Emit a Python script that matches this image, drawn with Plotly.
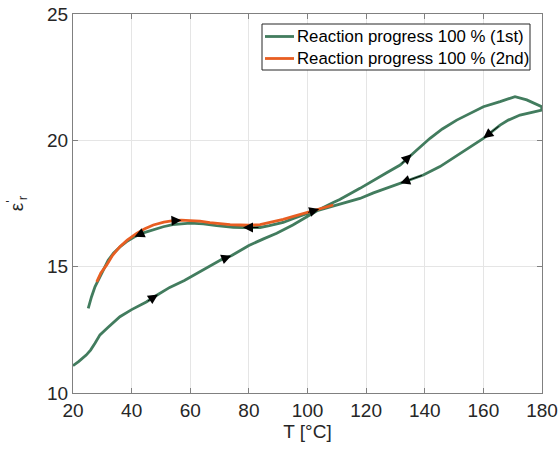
import plotly.graph_objects as go

# First measurement: heating from 20 °C up to 180 °C, then cooling back
t_first = [20, 22, 24.5, 26, 27.5, 29.2, 32, 36, 40, 45, 49, 53, 58, 62, 66, 70.5, 74,
           80, 85, 89.5, 95, 100, 104, 108.8, 111, 117.9, 122.5, 127, 131.6, 135.5,
           137.3, 141.8, 146, 150.9, 155, 160, 165.7, 170.8, 174.8, 178, 179.9,
           179.9, 176, 172.5, 168.5, 165.7, 160, 155, 150.9, 145.2, 139.5, 131.6, 127,
           122.5, 117.9, 111, 108.8, 105, 99.7, 95, 91.7, 87, 83.8, 78, 74.7, 69, 64.5,
           60, 57, 54, 50.8, 47, 44, 41, 38.3, 36, 33.8, 32, 30.3, 29, 27.5, 26.3, 25.2]
eps_first = [11.08, 11.25, 11.5, 11.7, 11.97, 12.3, 12.6, 13.02, 13.3, 13.6, 13.9, 14.18,
             14.45, 14.71, 14.98, 15.27, 15.43, 15.84, 16.1, 16.32, 16.65, 16.98, 17.26,
             17.54, 17.66, 18.1, 18.43, 18.72, 19.02, 19.45, 19.62, 20.08, 20.45, 20.8,
             21.05, 21.33, 21.53, 21.73, 21.6, 21.42, 21.33,
             21.2, 21.1, 21.0, 20.8, 20.6, 20.08, 19.7, 19.42, 18.96, 18.63, 18.3, 18.12,
             17.92, 17.7, 17.47, 17.4, 17.26, 17.1, 16.9, 16.75, 16.62, 16.55, 16.55,
             16.56, 16.62, 16.69, 16.72, 16.7, 16.66, 16.58, 16.46, 16.34, 16.18, 15.99,
             15.78, 15.53, 15.25, 14.87, 14.55, 14.2, 13.8, 13.35]

# Second measurement: heating only
t_second = [28.1, 29.5, 31.5, 33.5, 36, 38.5, 41.7, 44.5, 47.4, 51, 54.2, 57, 59.9, 63.3,
            66.7, 70, 73.6, 77, 80, 83.8, 87.5, 91.7, 95.5, 99.7, 104, 108.8]
eps_second = [14.4, 14.75, 15.07, 15.45, 15.79, 16.05, 16.32, 16.5, 16.65, 16.76, 16.82,
              16.84, 16.82, 16.8, 16.74, 16.7, 16.66, 16.65, 16.64, 16.66, 16.75, 16.87,
              17.0, 17.13, 17.28, 17.44]

# Indices of the points that carry a direction arrow
arrows_first = [10, 16, 29, 46, 51, 63, 73]
arrows_second = [11, 24]

series_names = ["Reaction progress 100 % (1st)", "Reaction progress 100 % (2nd)"]
x_ticks = [20, 40, 60, 80, 100, 120, 140, 160, 180]
y_ticks = [10, 15, 20, 25]

GREEN = "rgb(66,124,94)"
ORANGE = "rgb(232,94,34)"
COLORS = [GREEN, ORANGE]
FONT = "Liberation Sans, Arial, sans-serif"

W, H = 558, 449
M_L, M_R, M_T, M_B = 73, 16, 14, 56
PLOT_W, PLOT_H = W - M_L - M_R, H - M_T - M_B


def px_x(px):
    """Pixel column -> paper x."""
    return (px - M_L) / PLOT_W


def px_y(py):
    """Pixel row (from top) -> paper y."""
    return (H - M_B - py) / PLOT_H


fig = go.Figure()
fig.add_trace(go.Scatter(x=t_first, y=eps_first, mode="lines", name=series_names[0],
                         line=dict(color=GREEN, width=2.8)))
fig.add_trace(go.Scatter(x=t_second, y=eps_second, mode="lines", name=series_names[1],
                         line=dict(color=ORANGE, width=2.8)))

annotations = []
for xs, ys, idxs in [(t_first, eps_first, arrows_first), (t_second, eps_second, arrows_second)]:
    for i in idxs:
        annotations.append(dict(
            x=xs[i], y=ys[i], ax=xs[i - 1], ay=ys[i - 1],
            xref="x", yref="y", axref="x", ayref="y",
            text="", showarrow=True, arrowhead=2, arrowsize=2.0,
            arrowwidth=1, arrowcolor="black"))

# Legend box drawn with shapes so its row spacing stays compact
shapes = [dict(type="rect", xref="paper", yref="paper",
               x0=px_x(262), x1=px_x(530), y0=px_y(70), y1=px_y(24),
               line=dict(color="#262626", width=1), fillcolor="white", layer="above")]
row_y = [36.5, 58.5]
for name, color, ry in zip(series_names, COLORS, row_y):
    shapes.append(dict(type="line", xref="paper", yref="paper",
                       x0=px_x(265), x1=px_x(294), y0=px_y(ry), y1=px_y(ry),
                       line=dict(color=color, width=2.8), layer="above"))
    annotations.append(dict(xref="paper", yref="paper", x=px_x(295), y=px_y(ry),
                            xanchor="left", yanchor="middle", text=name, showarrow=False,
                            font=dict(family=FONT, size=16.8, color="#000000")))

axis_common = dict(
    showline=True, linecolor="#808080", linewidth=1, mirror="ticks",
    ticks="inside", ticklen=5, tickcolor="#808080",
    showgrid=True, gridcolor="#e5e5e5", gridwidth=1, zeroline=False,
    automargin=False,
    tickfont=dict(family=FONT, size=19, color="#262626"),
)

fig.update_layout(
    width=W, height=H,
    margin=dict(l=M_L, r=M_R, t=M_T, b=M_B),
    paper_bgcolor="white", plot_bgcolor="white",
    font=dict(family=FONT, color="#262626"),
    showlegend=False,
    annotations=annotations,
    shapes=shapes,
)
fig.update_xaxes(range=[20, 180], tickvals=x_ticks, **axis_common,
                 title=dict(text="T [°C]", font=dict(family=FONT, size=19, color="#262626"),
                            standoff=4))
fig.update_yaxes(range=[10, 25], tickvals=y_ticks, **axis_common,
                 title=dict(text="ε<sup>'</sup><sub>r</sub>",
                            font=dict(family=FONT, size=19, color="#262626"), standoff=18))

fig.write_html("out.html")
